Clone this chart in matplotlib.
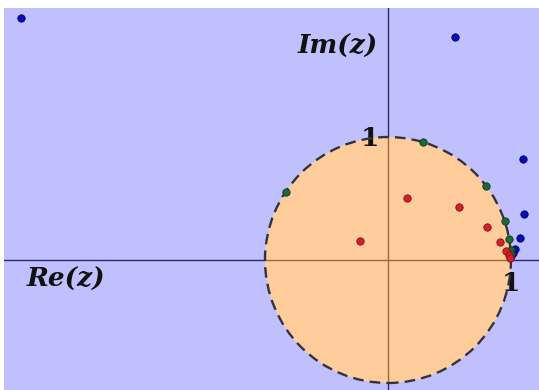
import numpy as np
import matplotlib.pyplot as plt
from matplotlib.patches import Circle

# points of the three sequences in the complex plane
blue_re = [-2.98, 0.545, 1.10, 1.11, 1.07, 1.03, 1.016, 1.003]
blue_im = [1.97, 1.81, 0.82, 0.37, 0.176, 0.087, 0.057, 0.035]

green_re = [-0.83, 0.285, 0.80, 0.95, 0.985, 0.998, 1.0]
green_im = [0.55, 0.96, 0.60, 0.32, 0.168, 0.081, 0.05]

red_re = [-0.23, 0.152, 0.58, 0.807, 0.91, 0.96, 0.985, 0.995]
red_im = [0.154, 0.506, 0.433, 0.27, 0.149, 0.076, 0.04, 0.02]

bg = '#c0c0ff'
peach = '#fecd9b'

fig = plt.figure(figsize=(5.39, 3.90), dpi=100)
ax = fig.add_axes([4 / 539, 0, 535 / 539, 382 / 390])
ax.set_facecolor(bg)
ax.set_xlim(-3.122, 1.228)
ax.set_ylim(-1.057, 2.049)
ax.set_aspect('equal')
for s in ax.spines.values():
    s.set_visible(False)
ax.set_xticks([])
ax.set_yticks([])

# axes lines (navy outside the disc, brown inside it)
ax.axhline(0, color='#2a2a70', lw=1.0, zorder=1)
ax.axvline(0, color='#2a2a70', lw=1.0, zorder=1)
disc = Circle((0, 0), 1, facecolor=peach, edgecolor='none', zorder=2)
ax.add_patch(disc)
h = ax.axhline(0, color='#9a6a3a', lw=1.0, zorder=3)
v = ax.axvline(0, color='#9a6a3a', lw=1.0, zorder=3)
h.set_clip_path(disc)
v.set_clip_path(disc)
ring = Circle((0, 0), 1, facecolor='none', edgecolor='#33333f', lw=1.7,
              linestyle=(0, (4.5, 2.6)), zorder=4)
ax.add_patch(ring)

ax.plot(blue_re, blue_im, 'o', ms=5.3, color='#0a0ab0', mec='#000070', mew=0.6, zorder=5)
ax.plot(green_re, green_im, 'o', ms=5.3, color='#1e6a34', mec='#0c3a1a', mew=0.6, zorder=6)
ax.plot(red_re, red_im, 'o', ms=5.3, color='#d4202c', mec='#8a0a14', mew=0.6, zorder=7)

font = dict(family='DejaVu Serif', fontweight='bold', color='#111111')
ax.text(-2.94, -0.16, 'Re(z)', fontsize=19, fontstyle='italic', ha='left', va='center', **font)
ax.text(-0.08, 1.74, 'Im(z)', fontsize=19, fontstyle='italic', ha='right', va='center', **font)
ax.text(-0.15, 0.99, '1', fontsize=19, ha='center', va='center', **font)
ax.text(1.0, -0.19, '1', fontsize=19, ha='center', va='center', **font)

fig.savefig('out.png', dpi=100)
